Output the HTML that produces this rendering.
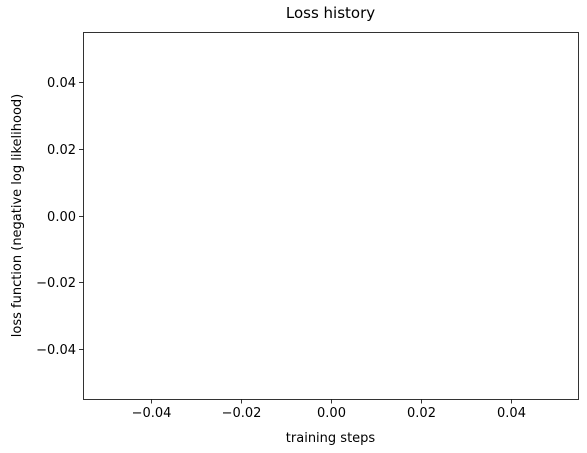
<!DOCTYPE html>
<html><head><meta charset="utf-8"><style>
html,body{margin:0;padding:0;background:#fff;}
svg{display:block;font-family:"DejaVu Sans","Liberation Sans",sans-serif;}
</style></head><body>
<svg id="chart" width="587" height="453"></svg>
<script>
const xTicks = [-0.04, -0.02, 0.00, 0.02, 0.04];
const yTicks = [-0.04, -0.02, 0.00, 0.02, 0.04];
const xDomain = [-0.055, 0.055];
const yDomain = [-0.055, 0.055];
const series = [];

const L = 83, R = 578, T = 32, B = 399;
const NS = 'http://www.w3.org/2000/svg';
const svg = document.getElementById('chart');
const xs = v => L + (v - xDomain[0]) / (xDomain[1] - xDomain[0]) * (R - L);
const ys = v => B - (v - yDomain[0]) / (yDomain[1] - yDomain[0]) * (B - T);
function mk(tag, attrs, text) {
  const e = document.createElementNS(NS, tag);
  for (const k in attrs) e.setAttribute(k, attrs[k]);
  if (text !== undefined) e.textContent = text;
  svg.appendChild(e);
  return e;
}
const fmt = v => v.toFixed(2).replace('-', '\u2212');

const frame = mk('rect', {x: L + 0.5, y: T + 0.5, width: R - L, height: B - T, fill: 'none', stroke: '#000', 'stroke-width': 0.8});



xTicks.forEach(v => {
  const x = Math.round(xs(v)) + 0.5;
  const t = mk('line', {x1: x, x2: x, y1: B + 0.5, y2: B + 4.5, stroke: '#000', 'stroke-width': 0.8});
  
  
  const l = mk('text', {x: x, y: B + 18, 'font-size': 13, 'text-anchor': 'middle', fill: '#000'}, fmt(v));
  
  
});
yTicks.forEach(v => {
  const y = Math.round(ys(v)) + 0.5;
  const t = mk('line', {x1: L - 4, x2: L + 0.5, y1: y, y2: y, stroke: '#000', 'stroke-width': 0.8});
  
  
  const l = mk('text', {x: L - 7, y: y + 4.5, 'font-size': 13, 'text-anchor': 'end', fill: '#000'}, fmt(v));
  
  
});

series.forEach(p => {
  const c = mk('circle', {cx: xs(p[0]), cy: ys(p[1]), r: 2, fill: '#1f77b4'});
  
  
});

const title = mk('text', {x: (L + R) / 2, y: 18, 'font-size': 15, 'text-anchor': 'middle', fill: '#000'}, 'Loss history');


const xt = mk('text', {x: (L + R) / 2, y: 442, 'font-size': 13, 'text-anchor': 'middle', fill: '#000'}, 'training steps');


const yt = mk('text', {x: 0, y: 0, 'font-size': 13, 'text-anchor': 'middle', fill: '#000', transform: 'translate(21,' + ((T + B) / 2) + ') rotate(-90)'}, 'loss function (negative log likelihood)');


</script>
</body></html>
